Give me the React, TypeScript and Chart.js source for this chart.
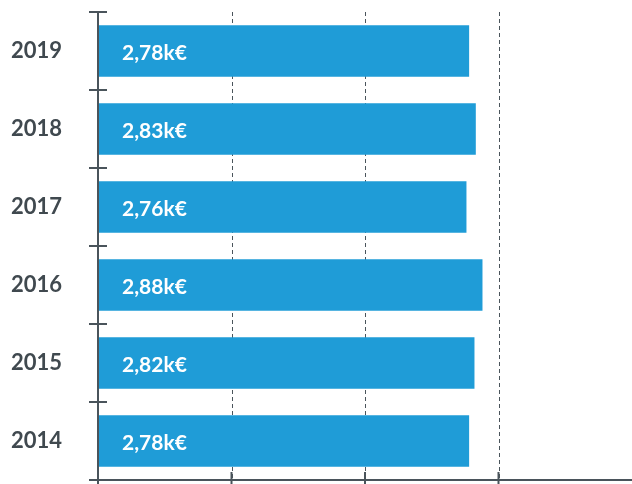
import React, { useEffect, useRef } from "react";
import { Chart, registerables } from "chart.js";

Chart.register(...registerables);

const years = ["2019", "2018", "2017", "2016", "2015", "2014"];
const values = [2.78, 2.83, 2.76, 2.88, 2.82, 2.78];
const valueLabels = ["2,78k€", "2,83k€", "2,76k€", "2,88k€", "2,82k€", "2,78k€"];
const xTicks = [0, 1, 2, 3, 4];

const AXIS = "#4a545b";
const TEXT = "#40494f";
const BAR = "#1f9cd7";

const decorPlugin = {
  id: "decor",
  beforeDatasetsDraw(chart: any) {
    const { ctx, chartArea, scales } = chart;
    const x = scales.x;
    ctx.save();
    ctx.strokeStyle = AXIS;
    ctx.lineWidth = 1;
    ctx.setLineDash([4, 3]);
    xTicks.forEach((v) => {
      if (v === 0) return;
      const px = Math.round(x.getPixelForValue(v)) + 0.5;
      if (px > chartArea.right - 2) return;
      ctx.beginPath();
      ctx.moveTo(px, chartArea.top);
      ctx.lineTo(px, chartArea.bottom);
      ctx.stroke();
    });
    ctx.restore();
  },
  afterDatasetsDraw(chart: any) {
    const { ctx, chartArea, scales } = chart;
    const x = scales.x;
    const y = scales.y;
    ctx.save();
    ctx.setLineDash([]);
    ctx.strokeStyle = AXIS;
    ctx.lineWidth = 2;
    const x0 = x.getPixelForValue(0);
    ctx.beginPath();
    ctx.moveTo(x0, chartArea.top);
    ctx.lineTo(x0, chart.height);
    ctx.stroke();
    ctx.beginPath();
    ctx.moveTo(x0, chartArea.bottom);
    ctx.lineTo(chart.width, chartArea.bottom);
    ctx.stroke();
    const n = years.length;
    const step = y.getPixelForValue(1) - y.getPixelForValue(0);
    for (let i = 0; i <= n; i++) {
      const py = i < n ? y.getPixelForValue(i) - step / 2 : chartArea.bottom;
      ctx.beginPath();
      ctx.moveTo(x0 - 9, py);
      ctx.lineTo(x0 + 9, py);
      ctx.stroke();
    }
    xTicks.forEach((v) => {
      const px = x.getPixelForValue(v);
      if (px > chartArea.right - 2) return;
      ctx.beginPath();
      ctx.moveTo(px, chartArea.bottom - 8);
      ctx.lineTo(px, chart.height);
      ctx.stroke();
    });
    ctx.fillStyle = "#ffffff";
    ctx.font = "bold 21px Lato";
    ctx.textBaseline = "middle";
    ctx.textAlign = "left";
    const meta = chart.getDatasetMeta(0);
    meta.data.forEach((bar: any, i: number) => {
      ctx.fillText(valueLabels[i], x0 + 24, bar.y + 2);
    });
    ctx.restore();
  },
};

export default function App() {
  const ref = useRef<HTMLCanvasElement>(null);
  useEffect(() => {
    document.body.style.margin = "0";
    const chart = new Chart(ref.current!, {
      type: "bar",
      data: {
        labels: years,
        datasets: [
          {
            data: values,
            backgroundColor: BAR,
            barPercentage: 0.66,
            categoryPercentage: 1,
            borderWidth: 0,
          },
        ],
      },
      options: {
        indexAxis: "y",
        animation: false,
        responsive: false,
        maintainAspectRatio: false,
        layout: { padding: { top: 12, right: 0, bottom: 0, left: 0 } },
        plugins: { legend: { display: false }, tooltip: { enabled: false } },
        scales: {
          x: {
            min: 0,
            max: 4,
            grid: { display: false, drawTicks: false },
            border: { display: false },
            ticks: { display: false },
            afterFit(scale: any) {
              scale.height = 4;
              scale.paddingLeft = 0;
              scale.paddingRight = 0;
              scale.paddingTop = 0;
              scale.paddingBottom = 0;
            },
          },
          y: {
            grid: { display: false, drawTicks: false },
            border: { display: false },
            ticks: {
              padding: 36,
              color: TEXT,
              font: { family: "Lato", weight: "bold", size: 22 },
            },
            afterFit(scale: any) {
              scale.width = 98;
              scale.paddingTop = 0;
              scale.paddingBottom = 0;
              scale.paddingLeft = 0;
              scale.paddingRight = 0;
            },
          },
        },
      },
      plugins: [decorPlugin],
    });
    return () => chart.destroy();
  }, []);
  return (
    <div style={{ position: "absolute", left: 0, top: 0, width: 632, height: 484 }}>
      <canvas ref={ref} width={632} height={484} style={{ width: 632, height: 484 }} />
    </div>
  );
}
